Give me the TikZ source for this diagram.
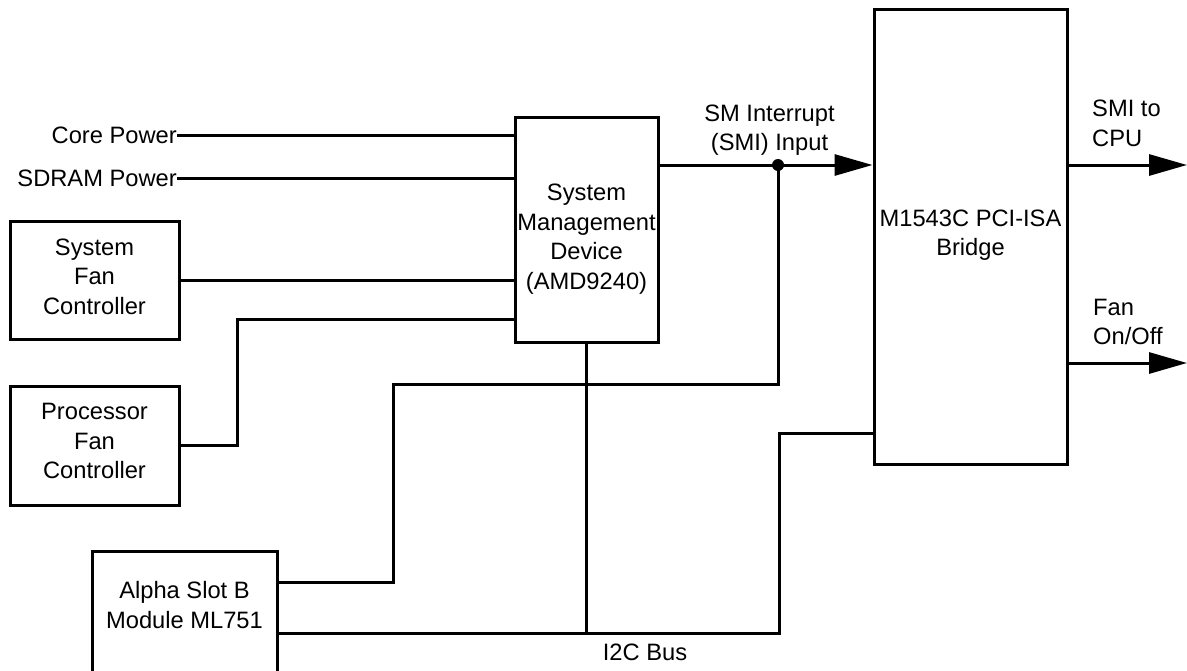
\documentclass[tikz,border=0pt]{standalone}
\usepackage{fontspec}
\setmainfont{Liberation Sans}
\usetikzlibrary{arrows.meta}
\begin{document}
\begin{tikzpicture}[x=1pt,y=-1pt,
 box/.style={draw,line width=3pt,inner sep=0pt},
 txt/.style={inner sep=0pt,align=center,font=\fontsize{23.7}{29.5}\selectfont},
 wire/.style={line width=3pt},
 arr/.style={line width=3pt,-{Triangle[length=38pt,width=21pt]}}]
\useasboundingbox (0,0) rectangle (1187,670);
\clip (0,0) rectangle (1187,670);
% boxes
\node[box,minimum width=169pt,minimum height=118pt] (sysfan) at (94.5,280) {};
\node[box,minimum width=169pt,minimum height=119pt] (procfan) at (94.5,445.5) {};
\node[box,minimum width=143pt,minimum height=225pt] (smd) at (586.5,229.5) {};
\node[box,minimum width=193pt,minimum height=455pt] (bridge) at (970.5,236.5) {};
\node[box,minimum width=185pt,minimum height=160pt] (alpha) at (184.5,631) {};
% box texts
\node[txt] (sysfantxt) at (94.5,276.5) {System\\Fan\\Controller};
\node[txt] (procfantxt) at (94.5,441) {Processor\\Fan\\Controller};
\node[txt] (smdtxt) at (586.5,239) {System\\Management\\Device\\(AMD9240)};
\node[txt] (bridgetxt) at (970.5,235) {M1543C PCI-ISA\\Bridge};
\node[txt] (alphatxt) at (184.5,605) {Alpha Slot B\\Module ML751};
% labels
\node[txt,anchor=east] (core) at (177,135) {Core Power};
\node[txt,anchor=east] (sdram) at (177,178) {SDRAM Power};
\node[txt] (smilbl) at (769.5,130) {SM Interrupt\\(SMI) Input};
\node[txt,align=left,anchor=west] (smicpu) at (1092,123.5) {SMI to\\CPU};
\node[txt,align=left,anchor=west] (fanlbl) at (1093,322) {Fan\\On/Off};
\node[txt] (i2c) at (645,652) {I2C Bus};
% coordinates
\coordinate (smiout) at (658,165);
\coordinate (dot) at (778,165);
\coordinate (pf) at (237,319);
\coordinate (dotlow) at (778,384);
\coordinate (alup) at (393,384);
\coordinate (alpha1) at (277,582);
\coordinate (alpha2) at (277,633);
\coordinate (busend) at (779,633);
\coordinate (busup) at (779,433);
\coordinate (cpuout) at (1187,165);
\coordinate (fanout) at (1187,363);
% wires
\draw[wire] (core.east) -- (core.east -| smd.west);
\draw[wire] (sdram.east) -- (sdram.east -| smd.west);
\draw[wire] (sysfan.east) -- (sysfan.east -| smd.west);
\draw[wire] (procfan.east) -| (pf) -- (pf -| smd.west);
\draw[wire] (smiout) -- (dot);
\draw[arr] (dot) -- (dot -| bridge.west);
\fill (dot) circle (6pt);
\draw[wire] (dot) -- (dotlow) -- (alup) |- (alpha1);
\draw[wire] (smd.south) -- (smd.south |- alpha2);
\draw[wire] (alpha2) -- (busend) -- (busup) -- (busup -| bridge.west);
\draw[arr] (cpuout -| bridge.east) -- (cpuout);
\draw[arr] (fanout -| bridge.east) -- (fanout);
\end{tikzpicture}
\end{document}
